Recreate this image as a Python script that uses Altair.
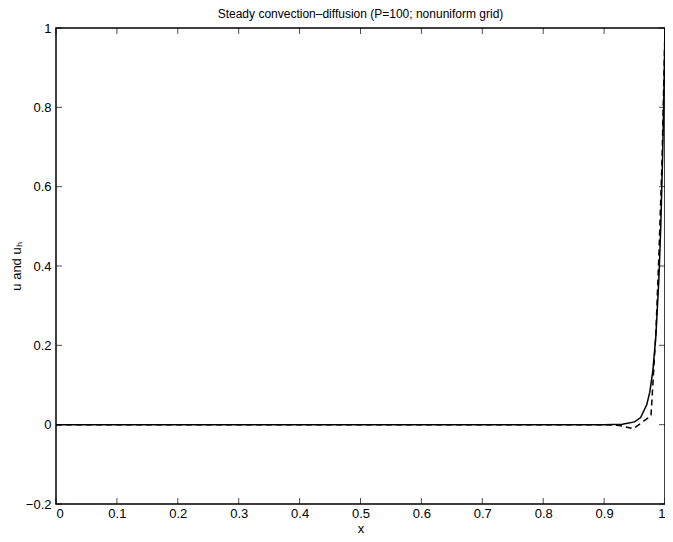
import altair as alt
import pandas as pd

# exact solution u (solid)
x_exact = [0.0, 0.2, 0.4, 0.6, 0.8, 0.9, 0.93, 0.95, 0.96, 0.97, 0.975, 0.98, 0.985, 0.99, 0.993, 0.996, 0.998, 1.0]
u_exact = [0.0, 0.0, 0.0, 0.0, 0.0, 0.0, 0.001, 0.007, 0.018, 0.05, 0.082, 0.135, 0.223, 0.368, 0.497, 0.670, 0.819, 1.0]

# numerical solution u_h on nonuniform grid (dashed)
x_num = [0.0, 0.2, 0.4, 0.6, 0.8, 0.9, 0.925, 0.948, 0.977, 0.985, 0.99, 0.995, 1.0]
u_num = [0.0, 0.0, 0.0, 0.0, 0.0, 0.0, -0.002, -0.010, 0.022, 0.23, 0.43, 0.66, 1.0]

x_ticks = [0, 0.1, 0.2, 0.3, 0.4, 0.5, 0.6, 0.7, 0.8, 0.9, 1.0]
y_ticks = [-0.2, 0, 0.2, 0.4, 0.6, 0.8, 1.0]

FONT = "Liberation Sans"

df_exact = pd.DataFrame({"x": x_exact, "u": u_exact})
df_num = pd.DataFrame({"x": x_num, "u": u_num})
df_xt = pd.DataFrame({"t": x_ticks})
df_yt = pd.DataFrame({"t": y_ticks})

W, H = 609, 476

xs = alt.Scale(domain=[0, 1], nice=False, zero=False)
ys = alt.Scale(domain=[-0.2, 1], nice=False, zero=False)

x_axis = alt.Axis(values=x_ticks, format="~g", ticks=False, grid=False, domain=False,
                  labelFont=FONT, labelFontSize=13, labelColor="black", labelPadding=3,
                  title="x", titleFont=FONT, titleFontSize=13, titleFontWeight="normal",
                  titleColor="black", titleX=W / 2, titleY=24, titleBaseline="middle")
y_axis = alt.Axis(values=y_ticks, format="~g", ticks=False, grid=False, domain=False,
                  labelFont=FONT, labelFontSize=13, labelColor="black", labelPadding=5,
                  title="u and uₕ", titleFont=FONT, titleFontSize=13, titleFontWeight="normal",
                  titleColor="black", titleX=-40, titleY=H / 2, titleAngle=-90,
                  titleAlign="center", titleBaseline="middle")

exact = alt.Chart(df_exact).mark_line(color="black", strokeWidth=1.5).encode(
    x=alt.X("x:Q", scale=xs, axis=x_axis),
    y=alt.Y("u:Q", scale=ys, axis=y_axis),
    order="x:Q",
)
num = alt.Chart(df_num).mark_line(color="black", strokeWidth=1.5, strokeDash=[6, 4]).encode(
    x=alt.X("x:Q", scale=xs),
    y=alt.Y("u:Q", scale=ys),
    order="x:Q",
)

tick_style = dict(color="black", thickness=1, size=6)
bottom = alt.Chart(df_xt).mark_tick(orient="vertical", yOffset=-3, **tick_style).encode(
    x=alt.X("t:Q", scale=xs), y=alt.datum(-0.2))
top = alt.Chart(df_xt).mark_tick(orient="vertical", yOffset=3, **tick_style).encode(
    x=alt.X("t:Q", scale=xs), y=alt.datum(1.0))
left = alt.Chart(df_yt).mark_tick(orient="horizontal", xOffset=3, **tick_style).encode(
    y=alt.Y("t:Q", scale=ys), x=alt.datum(0.0))
right = alt.Chart(df_yt).mark_tick(orient="horizontal", xOffset=-3, **tick_style).encode(
    y=alt.Y("t:Q", scale=ys), x=alt.datum(1.0))

chart = alt.layer(exact, num, bottom, top, left, right).properties(
    width=W,
    height=H,
    title=alt.TitleParams("Steady convection–diffusion (P=100; nonuniform grid)",
                          font=FONT, fontSize=12, fontWeight="normal", color="black",
                          anchor="middle", offset=1, frame="group"),
    autosize=alt.AutoSizeParams(type="none"),
    padding={"left": 48, "top": 20, "right": 0, "bottom": 30},
    background="white",
).configure_view(stroke="black", strokeWidth=1.5)

chart.save("out.html", embed_options={"renderer": "svg", "actions": False})
